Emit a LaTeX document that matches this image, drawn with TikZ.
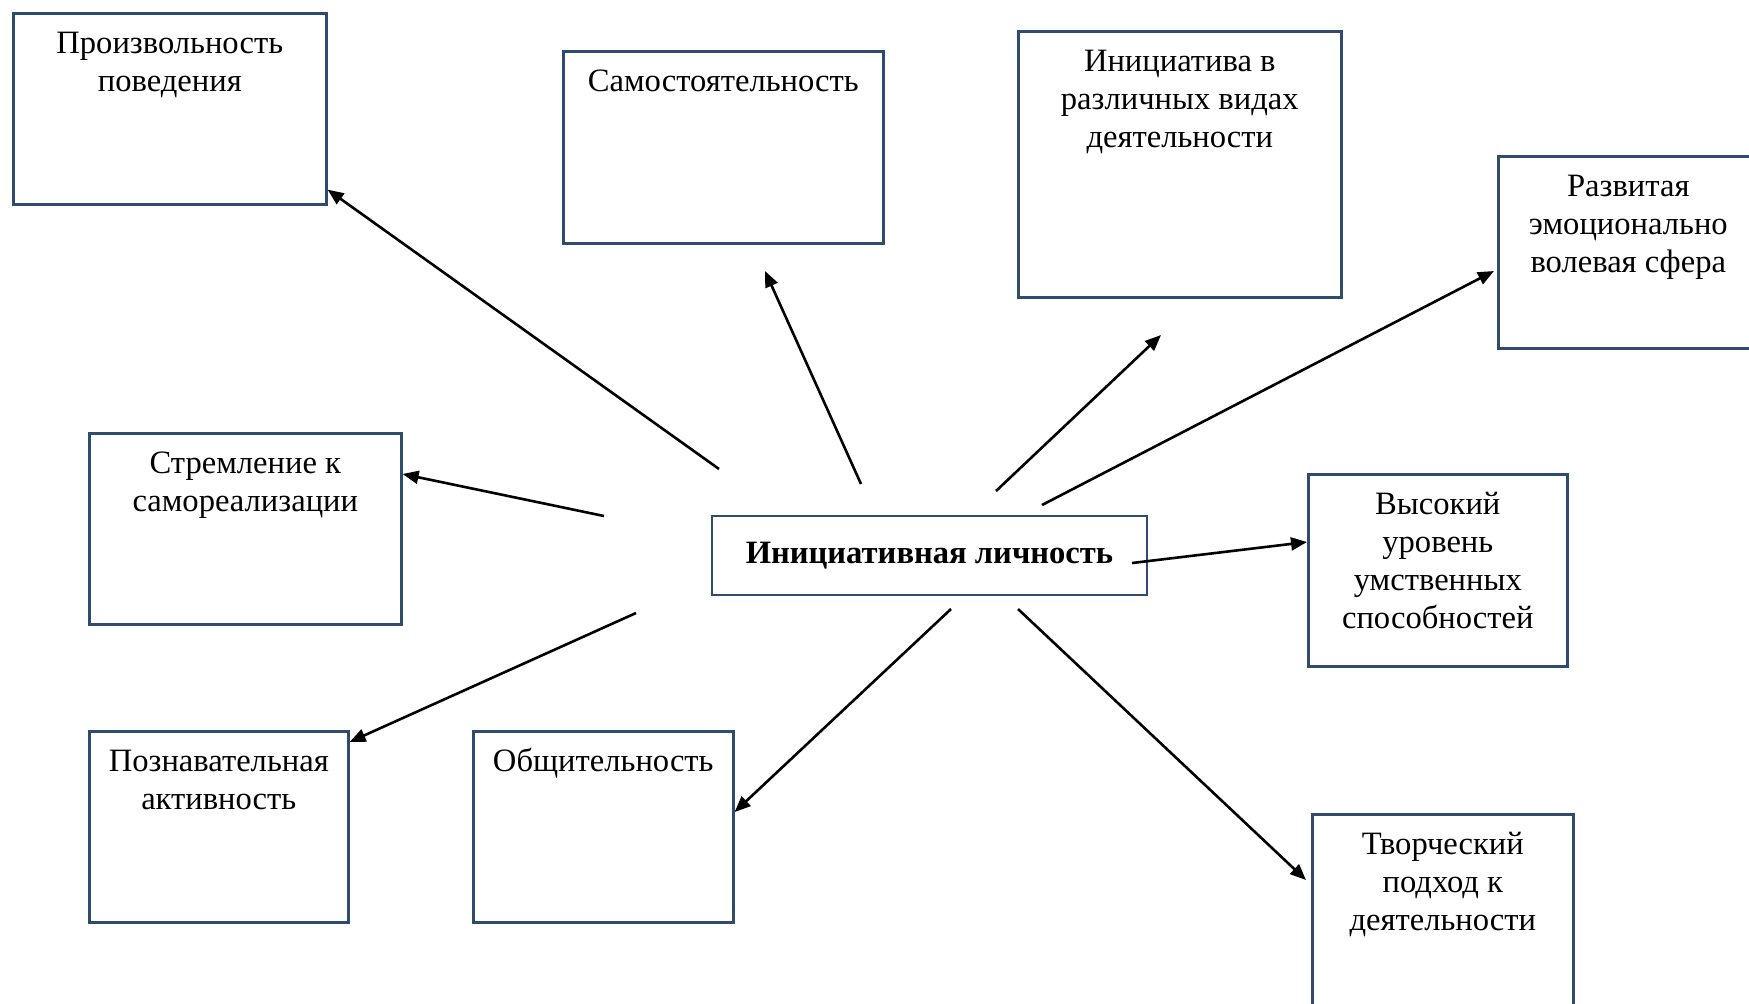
\documentclass[tikz,border=0pt]{standalone}
\usepackage{fontspec}
\setmainfont{Liberation Serif}
\usetikzlibrary{arrows.meta}
\definecolor{boxblue}{RGB}{47,75,110}
\newcommand{\celltext}[3]{\parbox[c][#2][t]{#1}{\centering\rule{0pt}{20pt}#3}}
\tikzset{
  cell/.style={draw=boxblue, line width=1.3pt, inner sep=0pt, anchor=north west},
  arr/.style={line width=1.3pt, -{Triangle[length=8pt,width=6.5pt]}}
}
\begin{document}
\begin{tikzpicture}[x=0.5pt, y=-0.5pt, font=\fontsize{16.3}{19}\selectfont]
            \clip (0,0) rectangle (1749,1003);
            \fill[white] (0,0) rectangle (1749,1003);

            \node[cell] (b1) at (12,12) {\celltext{156.5pt}{95.5pt}{Произвольность\\поведения}};
            \node[cell] (b2) at (562,50) {\celltext{160pt}{96pt}{Самостоятельность}};
            \node[cell] (b3) at (1017,30) {\celltext{161.5pt}{133pt}{Инициатива в\\различных видах\\деятельности}};
            \node[cell] (b4) at (1497,155) {\celltext{130pt}{96pt}{Развитая\\эмоционально\\волевая сфера}};
            \node[cell] (b5) at (88,432) {\celltext{156pt}{95.5pt}{Стремление к\\самореализации}};
            \node[cell] (b7) at (1307,473) {\celltext{129.5pt}{96pt}{Высокий\\уровень\\умственных\\способностей}};
            \node[cell] (b8) at (88,730) {\celltext{129.5pt}{95.5pt}{Познавательная\\активность}};
            \node[cell] (b9) at (472,730) {\celltext{130pt}{95.5pt}{Общительность}};
            \node[cell] (b10) at (1311,813) {\celltext{130.5pt}{100pt}{Творческий\\подход к\\деятельности}};
            \node[draw=boxblue, line width=1.3pt, minimum width=217.5pt, minimum height=39.5pt,
                  inner sep=0pt, font=\fontsize{16.3}{19}\selectfont\bfseries] (c) at (929.5,555.5)
                  {\raisebox{1.5pt}{Инициативная личность}};

            \coordinate (s1) at (719,469);
            \coordinate (s2) at (861,484);
            \coordinate (s3) at (996,491);
            \coordinate (s4) at (1042,505);
            \coordinate (s5) at (604,516);
            \coordinate (s6) at (1132,563);
            \coordinate (s7) at (636,613);
            \coordinate (s8) at (951,609);
            \coordinate (s9) at (1018,609);
            \coordinate (e2) at (765,271);
            \coordinate (e3) at (1161,335);

            \draw[arr] (s1) -- ([yshift=8pt]b1.south east);
            \draw[arr] (s2) -- (e2);
            \draw[arr] (s3) -- (e3);
            \draw[arr] (s4) -- ([xshift=-1.5pt,yshift=-58pt]b4.north west);
            \draw[arr] (s5) -- ([yshift=-21pt]b5.north east);
            \draw[arr] (s6) -- ([yshift=-34.5pt]b7.north west);
            \draw[arr] (s7) -- ([yshift=-6pt]b8.north east);
            \draw[arr] (s8) -- ([yshift=-41pt]b9.north east);
            \draw[arr] (s9) -- ([xshift=-2.5pt,yshift=-33.5pt]b10.north west);
\end{tikzpicture}
\end{document}
